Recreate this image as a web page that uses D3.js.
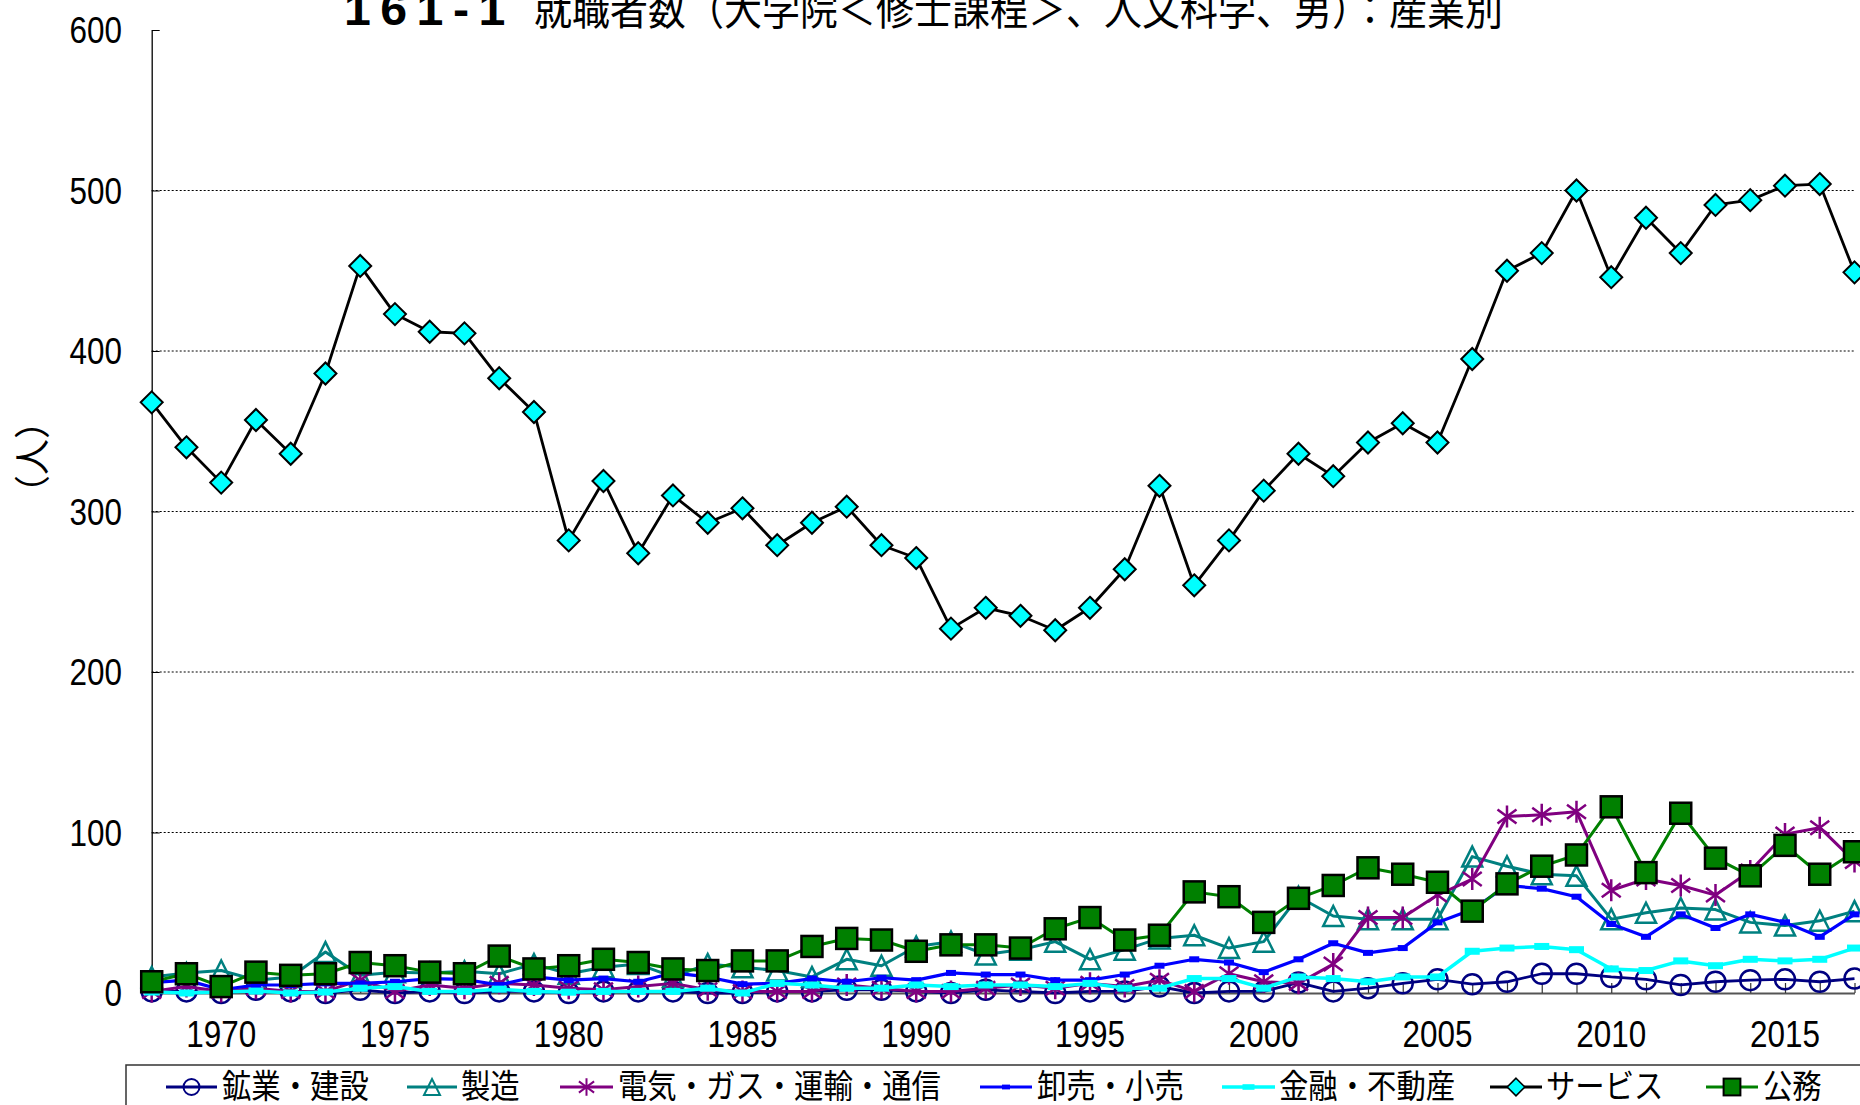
<!DOCTYPE html>
<html><head><meta charset="utf-8">
<script src="https://cdn.jsdelivr.net/npm/d3@7/dist/d3.min.js"></script>
<style>body{margin:0;background:#fff;overflow:hidden}svg{display:block}</style>
</head><body><svg id="c" width="1860" height="1105"></svg>
<script>
// ---------- data ----------
const years = [1968,1969,1970,1971,1972,1973,1974,1975,1976,1977,1978,1979,1980,1981,1982,1983,1984,1985,1986,1987,1988,1989,1990,1991,1992,1993,1994,1995,1996,1997,1998,1999,2000,2001,2002,2003,2004,2005,2006,2007,2008,2009,2010,2011,2012,2013,2014,2015,2016,2017];
const mining = [1,1,0,2,1,0,2,0,1,0,1,1,0,1,1,1,0,0,1,1,2,2,1,0,2,1,0,1,1,4,0,1,1,6.5,1,3,6,8.5,5.5,7,12,12,10,8.5,5,7,8,8.5,7,9];
const manufacturing = [10,12.5,14,8,10,25.5,11,13,12.5,13.5,12,18,12,16,18,10,18,16,14,10,21,17,29,32,24,27,32,21,27,34,36,28,32,60,48,46,46,46,85,79,74,73,46,50,53,52,44,42,45,51];
const utilities = [1,4,1,3,1,1,8,1,5,3,6,5,3,2,4,6,2,1,1,1,5,3,1,1,3,5,3,6,4,8,1,12,7,6,18,47,47,61,71,110,111,113,64,71,67,61,76,99,103,82];
const wholesale = [6.5,8,2,5,5,6,6,7,9,8.5,5,10,8,9,7,12.5,10,5.5,6,9,7,9.5,8,12.5,11.5,11.5,8,8,11.5,17,21,19,13,21,31,25,28,44,52,67,65,60,43,35,49,40.5,49,44,35,49];
const finance = [0.6,0,0.6,1.2,0,0.6,3,4,1,1,2.4,1,0.5,1,1,1,3,0,6,5,3,3,5,4,5,5,4,6,3,3,9,9,3,10,9,7,10,10,26,28,29,27,15,14,20,17,21,20,21,28];
const services = [368,340,318,357,336,386,453,423,412,411,383,362,282,319,274,310,293,302,279,293,303,279,271,227,240,235,226,240,264,316,254,282,313,336,322,343,355,343,395,450,461,500,446,483,461,491,494,503,504,449];
const publicSector = [7,12,4,13,11,12,19,17,13,12,23,15,17,21,19,15,14,20,20,29,34,33,26,30,30,28,40,47,33,36,63,60,44,59,67,78,74,69,51,68,79,86,116,75,112,84,73,92,74,88];
const seriesNames = ["鉱業・建設","製造","電気・ガス・運輸・通信","卸売・小売","金融・不動産","サービス","公務"];
const yTicks = [0,100,200,300,400,500,600];
const xLabelYears = [1970,1975,1980,1985,1990,1995,2000,2005,2010,2015];
const titleNum = "161-1";
const titleText = "就職者数（大学院＜修士課程＞、人文科学、男）：産業別";
const yTitle = "（人）";

// ---------- chart ----------
const svg = d3.select('#c');
const x = d3.scaleLinear().domain([1968, 2017]).range([151.7, 1854.5]);
const y = d3.scaleLinear().domain([0, 600]).range([993, 30]);
const NUM_FONT = "'Liberation Sans', Arial, sans-serif";
const CJK_FONT = "'Noto Sans CJK JP', 'Noto Sans CJK SC', sans-serif";

function stext(g, px, py, str, o) {
  return g.append('text')
    .attr('transform', `translate(${px},${py}) scale(${o.sx||1},1)`)
    .attr('text-anchor', o.anchor || 'start')
    .attr('font-family', o.font || NUM_FONT)
    .attr('font-size', o.size)
    .attr('font-weight', o.weight || 'normal')
    .attr('fill', '#000')
    .text(str);
}

// gridlines
svg.append('g').selectAll('line').data(yTicks.filter(v => v > 0 && v < 600)).join('line')
  .attr('x1', x(1968)).attr('x2', x(2017))
  .attr('y1', d => y(d)).attr('y2', d => y(d))
  .attr('stroke', '#000').attr('stroke-width', 1).attr('stroke-dasharray', '2,2');

// y axis
const yAxis = svg.append('g').attr('transform', `translate(${x(1968)},0)`)
  .call(d3.axisLeft(y).tickValues(yTicks).tickSize(-8).tickSizeOuter(0).tickFormat(d3.format('d')));
yAxis.select('.domain').attr('stroke', '#000').attr('stroke-width', 1.3);
yAxis.selectAll('.tick line').attr('stroke', '#000');
yAxis.selectAll('.tick text').remove();
yTicks.forEach(v => stext(svg, 122, y(v) + 13.3, String(v), {size: 37, sx: 0.85, anchor: 'end'}));

// x axis
const xAxis = svg.append('g').attr('transform', `translate(0,${y(0)})`)
  .call(d3.axisBottom(x).tickValues(years).tickSize(-10).tickSizeOuter(0).tickFormat(''));
xAxis.select('.domain').attr('stroke', '#555').attr('stroke-width', 2);
xAxis.selectAll('.tick line').attr('stroke', '#333').attr('stroke-width', 1.2);
xLabelYears.forEach(v => stext(svg, x(v), 1047, String(v), {size: 37, sx: 0.85, anchor: 'middle'}));

// title
stext(svg, 344, 25, titleNum, {size: 46, sx: 1.05, weight: 'bold', font: NUM_FONT}).attr('letter-spacing', 9);
stext(svg, 534, 25, titleText, {size: 42, sx: 0.905, font: CJK_FONT});

// y title
svg.append('text').attr('transform', 'translate(46,457) rotate(-90)')
  .attr('text-anchor', 'middle').attr('font-family', CJK_FONT).attr('font-size', 36)
  .text(yTitle);

// markers
const sym = {
  circle: (g, c) => g.append('circle').attr('r', 10).attr('fill', 'none').attr('stroke', c).attr('stroke-width', 2.5),
  triangle: (g, c) => g.append('path').attr('d', 'M0,-10L10,10L-10,10Z').attr('fill', 'none').attr('stroke', c).attr('stroke-width', 2.5),
  star: (g, c) => g.append('path').attr('d', 'M0,-11L0,11M-9.5,-7L9.5,7M-9.5,7L9.5,-7').attr('fill', 'none').attr('stroke', c).attr('stroke-width', 2.5),
  dashSmall: (g, c) => g.append('rect').attr('x', -5).attr('y', -3).attr('width', 10).attr('height', 6).attr('fill', c),
  dashWide: (g, c) => g.append('rect').attr('x', -7.5).attr('y', -3.5).attr('width', 15).attr('height', 7).attr('fill', c),
  diamond: (g, c) => g.append('path').attr('d', 'M0,-11L11,0L0,11L-11,0Z').attr('fill', '#00FFFF').attr('stroke', '#000').attr('stroke-width', 2),
  square: (g, c) => g.append('rect').attr('x', -10.5).attr('y', -10.5).attr('width', 21).attr('height', 21).attr('fill', '#008000').attr('stroke', '#000').attr('stroke-width', 2.5)
};

const series = [
  {name: seriesNames[0], values: mining, line: '#000080', lw: 2.8, marker: 'circle'},
  {name: seriesNames[1], values: manufacturing, line: '#008080', lw: 3, marker: 'triangle'},
  {name: seriesNames[2], values: utilities, line: '#800080', lw: 3, marker: 'star'},
  {name: seriesNames[3], values: wholesale, line: '#0000FF', lw: 3.2, marker: 'dashSmall'},
  {name: seriesNames[4], values: finance, line: '#00FFFF', lw: 3.5, marker: 'dashWide'},
  {name: seriesNames[5], values: services, line: '#000000', lw: 2.8, marker: 'diamond'},
  {name: seriesNames[6], values: publicSector, line: '#008000', lw: 3, marker: 'square'}
];

const lineGen = d3.line().x((d, i) => x(years[i])).y(d => y(d));
series.forEach(s => {
  const g = svg.append('g');
  g.append('path').attr('d', lineGen(s.values)).attr('fill', 'none')
    .attr('stroke', s.line).attr('stroke-width', s.lw).attr('stroke-linejoin', 'round');
  s.values.forEach((v, i) => {
    const mg = g.append('g').attr('transform', `translate(${x(years[i])},${y(v)})`);
    sym[s.marker](mg, s.line);
  });
});

// legend
const lg = svg.append('g');
lg.append('rect').attr('x', 126).attr('y', 1065).attr('width', 1800).attr('height', 80)
  .attr('fill', '#fff').attr('stroke', '#333').attr('stroke-width', 1.5);
const legendPos = [[166, 217, 222], [407, 457, 461], [560, 613, 618], [980, 1032, 1037], [1222, 1275, 1279], [1490, 1542, 1546], [1706, 1758, 1763]];
series.forEach((s, i) => {
  const [a, b, t] = legendPos[i];
  const ly = 1087;
  lg.append('line').attr('x1', a).attr('x2', b).attr('y1', ly).attr('y2', ly)
    .attr('stroke', s.line).attr('stroke-width', s.lw);
  const mg = lg.append('g').attr('transform', `translate(${(a + b) / 2},${ly}) scale(0.8)`);
  sym[s.marker](mg, s.line);
  stext(lg, t, 1098, s.name, {size: 33, sx: 0.89, font: CJK_FONT});
});
</script>
</body></html>
